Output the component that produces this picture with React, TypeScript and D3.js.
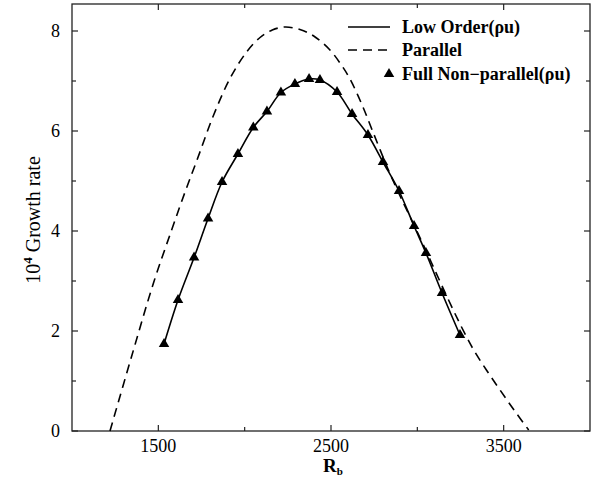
import React, { useEffect, useRef } from 'react';
import * as d3 from 'd3';

// Full non-parallel (rho u) points, also joined by the low order line
const fullRb = [1533, 1614, 1707, 1788, 1869, 1961, 2050, 2129, 2210, 2291, 2373, 2436, 2535, 2622, 2714, 2801, 2894, 2981, 3050, 3143, 3247];
const fullRate = [1.74, 2.62, 3.47, 4.25, 4.98, 5.54, 6.07, 6.39, 6.77, 6.94, 7.04, 7.02, 6.78, 6.34, 5.92, 5.38, 4.8, 4.1, 3.56, 2.76, 1.92];

// Parallel theory curve
const parRb = [1220, 1345, 1471, 1580, 1660, 1722, 1818, 1915, 2011, 2089, 2160, 2233, 2320, 2400, 2494, 2560, 2610, 2680, 2743, 2830, 2900, 3000, 3080, 3170, 3250, 3323, 3400, 3479, 3560, 3645];
const parRate = [0, 1.49, 2.95, 4.05, 4.83, 5.4, 6.3, 7.05, 7.58, 7.87, 8.02, 8.08, 8.03, 7.9, 7.62, 7.32, 7.04, 6.52, 5.98, 5.24, 4.7, 3.98, 3.38, 2.7, 2.12, 1.64, 1.22, 0.82, 0.42, 0.02];

const xMajor = [1500, 2500, 3500];
const xMinor = [2000, 3000];
const yMajor = [0, 2, 4, 6, 8];
const yMinor = [1, 3, 5, 7];

function App() {
    const ref = useRef(null);

    useEffect(() => {
        const left = 72, right = 590, top = 4, bottom = 431;
        const svg = d3.select(ref.current);
        svg.selectAll('*').remove();

        const x = d3.scaleLinear().domain([1000, 4000]).range([left, right]);
        const y = d3.scaleLinear().domain([0, 8.54]).range([bottom, top]);

        const font = 'Liberation Serif, Times New Roman, serif';

        // frame
        svg.append('rect')
            .attr('x', left).attr('y', top)
            .attr('width', right - left).attr('height', bottom - top)
            .attr('fill', 'none').attr('stroke', '#222').attr('stroke-width', 1.3);

        // ticks, all pointing inward
        const tickG = svg.append('g').attr('stroke', '#222').attr('stroke-width', 1.2);
        xMajor.concat(xMinor).forEach(v => {
            const len = xMajor.includes(v) ? 6 : 4;
            tickG.append('line').attr('x1', x(v)).attr('x2', x(v)).attr('y1', bottom).attr('y2', bottom - len);
            tickG.append('line').attr('x1', x(v)).attr('x2', x(v)).attr('y1', top).attr('y2', top + len);
        });
        yMajor.concat(yMinor).forEach(v => {
            const len = yMajor.includes(v) ? 6 : 4;
            tickG.append('line').attr('x1', left).attr('x2', left + len).attr('y1', y(v)).attr('y2', y(v));
            tickG.append('line').attr('x1', right).attr('x2', right - len).attr('y1', y(v)).attr('y2', y(v));
        });

        // tick labels
        svg.append('g').selectAll('text').data(xMajor).enter().append('text')
            .attr('x', d => x(d)).attr('y', 452)
            .attr('text-anchor', 'middle')
            .attr('font-family', font).attr('font-size', 18)
            .text(d => d);
        svg.append('g').selectAll('text').data(yMajor).enter().append('text')
            .attr('x', 60).attr('y', d => y(d) + 6)
            .attr('text-anchor', 'end')
            .attr('font-family', font).attr('font-size', 18)
            .text(d => d);

        // axis titles
        const xt = svg.append('text')
            .attr('x', 323).attr('y', 472)
            .attr('font-family', font).attr('font-size', 19).attr('font-weight', 'bold');
        xt.append('tspan').text('R');
        xt.append('tspan').attr('font-size', 11).attr('dy', 3).text('b');

        const yt = svg.append('text')
            .attr('transform', 'translate(40,220) rotate(-90)')
            .attr('text-anchor', 'middle')
            .attr('font-family', font).attr('font-size', 20);
        yt.append('tspan').text('10');
        yt.append('tspan').attr('font-size', 13).attr('font-weight', 'bold').attr('dy', -8).text('4');
        yt.append('tspan').attr('dy', 8).text(' Growth rate');

        // parallel curve
        const parPts = parRb.map((r, i) => [r, parRate[i]]);
        svg.append('path')
            .attr('d', d3.line().x(d => x(d[0])).y(d => y(d[1])).curve(d3.curveCatmullRom)(parPts))
            .attr('fill', 'none').attr('stroke', '#000').attr('stroke-width', 1.6)
            .attr('stroke-dasharray', '9,6');

        // low order line and non-parallel triangles
        const fullPts = fullRb.map((r, i) => [r, fullRate[i]]);
        svg.append('path')
            .attr('d', d3.line().x(d => x(d[0])).y(d => y(d[1])).curve(d3.curveCatmullRom)(fullPts))
            .attr('fill', 'none').attr('stroke', '#000').attr('stroke-width', 1.6);

        const tri = d3.symbol().type(d3.symbolTriangle).size(48);
        svg.append('g').selectAll('path').data(fullPts).enter().append('path')
            .attr('d', tri())
            .attr('transform', d => `translate(${x(d[0])},${y(d[1])})`)
            .attr('fill', '#000');

        // legend
        const lg = svg.append('g').attr('font-family', font).attr('font-size', 18).attr('font-weight', 'bold');
        lg.append('line').attr('x1', 348).attr('x2', 390).attr('y1', 27).attr('y2', 27)
            .attr('stroke', '#000').attr('stroke-width', 1.5);
        lg.append('line').attr('x1', 348).attr('x2', 391).attr('y1', 50).attr('y2', 50)
            .attr('stroke', '#000').attr('stroke-width', 1.6).attr('stroke-dasharray', '9,6');
        lg.append('path').attr('d', tri()).attr('transform', 'translate(389,74)').attr('fill', '#000');
        lg.append('text').attr('x', 402).attr('y', 33).text('Low Order(ρu)');
        lg.append('text').attr('x', 402).attr('y', 56).text('Parallel');
        lg.append('text').attr('x', 402).attr('y', 80).text('Full Non\u2212parallel(ρu)');
    }, []);

    return (
        <svg ref={ref} width={600} height={485}
            style={{ position: 'absolute', left: 0, top: 0, background: '#fff' }} />
    );
}

export default App;
